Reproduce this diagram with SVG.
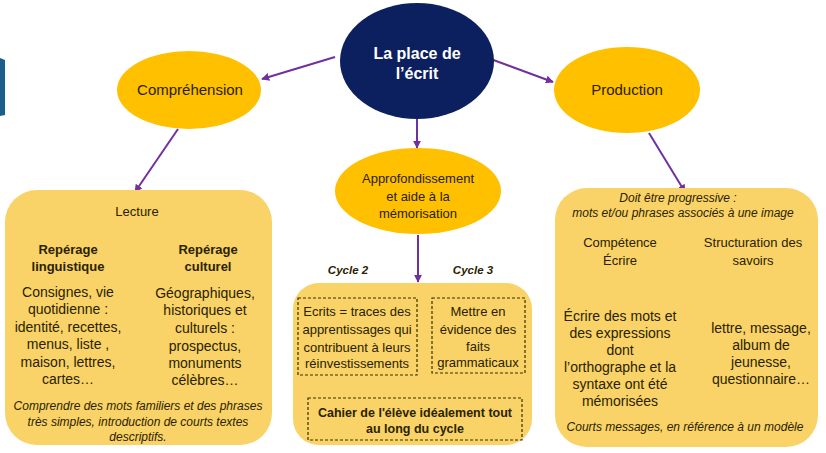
<svg xmlns="http://www.w3.org/2000/svg" width="826" height="453" viewBox="0 0 826 453">
<defs>
<marker id="ah" viewBox="0 0 10 10" refX="9" refY="5" markerWidth="4" markerHeight="4" orient="auto" markerUnits="strokeWidth">
<path d="M0,0 L10,5 L0,10 z" fill="#7030A0"/>
</marker>
<style>
text{font-family:"Liberation Sans",Arial,sans-serif;fill:#2a2200;text-anchor:middle}
.oval{fill:#FFC000}
.box{fill:#F9D368}
.dash{fill:none;stroke:#3a3000;stroke-width:1.2;stroke-dasharray:3 2}
.con{stroke:#7030A0;stroke-width:2;fill:none;marker-end:url(#ah)}
.t15{font-size:15px}
.t14{font-size:14px}
.t13{font-size:13px}
.b13{font-size:13px;font-weight:bold}
.i12{font-size:12px;font-style:italic}
.bi{font-size:11.5px;font-style:italic;font-weight:bold}
.b12{font-size:12.5px;font-weight:bold}
</style>
</defs>
<rect width="826" height="453" fill="#ffffff"/>
<path d="M0,58 L5,60 L5,115 L0,116 z" fill="#1B5E8C"/>

<g id="connectors">
<line class="con" x1="335" y1="57" x2="262" y2="79"/>
<line class="con" x1="488" y1="58" x2="553" y2="82"/>
<line class="con" x1="417" y1="119" x2="417" y2="148"/>
<line class="con" x1="178" y1="129" x2="135" y2="192"/>
<line class="con" x1="649" y1="133" x2="685" y2="192"/>
<line class="con" x1="418" y1="235" x2="418" y2="282"/>
<line class="con" x1="120" y1="222" x2="95" y2="237"/>
<line class="con" x1="151" y1="222" x2="177" y2="237"/>
<line class="con" x1="137" y1="232" x2="137" y2="390"/>
<line class="con" x1="619" y1="272" x2="619" y2="303"/>
<line class="con" x1="752" y1="272" x2="752" y2="306"/>
</g>

<g id="center">
<ellipse cx="417" cy="61" rx="77" ry="58" fill="#0C1F5E"/>
<text x="417" y="59" style="font-size:16px;font-weight:bold;fill:#ffffff">La place de</text>
<text x="417" y="79" style="font-size:16px;font-weight:bold;fill:#ffffff">l’écrit</text>
</g>

<g id="comprehension">
<ellipse class="oval" cx="189" cy="90" rx="72" ry="39"/>
<text class="t15" x="190" y="95">Compréhension</text>
</g>

<g id="production">
<ellipse class="oval" cx="627" cy="90" rx="73" ry="43"/>
<text class="t15" x="627" y="95">Production</text>
</g>

<g id="approfondissement">
<ellipse class="oval" cx="418" cy="191" rx="83" ry="43"/>
<text class="t13" x="418" y="183">Approfondissement</text>
<text class="t13" x="418" y="201">et aide à la</text>
<text class="t13" x="418" y="218">mémorisation</text>
</g>

<g id="lecture">
<rect class="box" x="5" y="190" width="267" height="255" rx="32"/>
<text class="t13" x="137" y="216">Lecture</text>
<text class="b13" x="68" y="254">Repérage</text>
<text class="b13" x="68" y="271">linguistique</text>
<text class="b13" x="208" y="254">Repérage</text>
<text class="b13" x="208" y="271">culturel</text>
<text class="t14" x="68" y="297">Consignes, vie</text>
<text class="t14" x="68" y="314">quotidienne :</text>
<text class="t14" x="68" y="332">identité, recettes,</text>
<text class="t14" x="68" y="349">menus, liste ,</text>
<text class="t14" x="68" y="367">maison, lettres,</text>
<text class="t14" x="68" y="384">cartes…</text>
<text class="t14" x="205" y="298">Géographiques,</text>
<text class="t14" x="205" y="315">historiques et</text>
<text class="t14" x="205" y="333">culturels :</text>
<text class="t14" x="205" y="351">prospectus,</text>
<text class="t14" x="205" y="368">monuments</text>
<text class="t14" x="205" y="385">célèbres…</text>
<text class="i12" x="138" y="410">Comprendre des mots familiers et des phrases</text>
<text class="i12" x="138" y="426">très simples, introduction de courts textes</text>
<text class="i12" x="138" y="441">descriptifs.</text>
</g>

<g id="cycles">
<text class="bi" x="348" y="274">Cycle 2</text>
<text class="bi" x="473" y="274">Cycle 3</text>
<rect class="box" x="293" y="283" width="239" height="162" rx="26"/>
<rect class="dash" x="298" y="298" width="119" height="77"/>
<text class="t13" x="357" y="316">Ecrits = traces des</text>
<text class="t13" x="357" y="334">apprentissages qui</text>
<text class="t13" x="357" y="352">contribuent à leurs</text>
<text class="t13" x="357" y="368">réinvestissements</text>
<rect class="dash" x="432" y="298" width="93" height="75"/>
<text class="t13" x="478" y="316">Mettre en</text>
<text class="t13" x="478" y="334">évidence des</text>
<text class="t13" x="478" y="351">faits</text>
<text class="t13" x="478" y="367">grammaticaux</text>
<rect class="dash" x="308" y="398" width="214" height="42"/>
<text class="b12" x="415" y="417">Cahier de l'élève idéalement tout</text>
<text class="b12" x="415" y="433">au long du cycle</text>
</g>

<g id="ecriture">
<rect class="box" x="555" y="188" width="263" height="259" rx="32"/>
<text class="i12" x="678" y="202">Doit être progressive :</text>
<text class="i12" x="683" y="217">mots et/ou phrases  associés à une image</text>
<text class="t13" x="620" y="247">Compétence</text>
<text class="t13" x="620" y="265">Écrire</text>
<text class="t13" x="753" y="247">Structuration des</text>
<text class="t13" x="753" y="265">savoirs</text>
<text class="t14" x="620" y="321">Écrire des mots et</text>
<text class="t14" x="620" y="338">des expressions</text>
<text class="t14" x="620" y="355">dont</text>
<text class="t14" x="620" y="372">l’orthographe et la</text>
<text class="t14" x="620" y="389">syntaxe ont été</text>
<text class="t14" x="620" y="406">mémorisées</text>
<text class="t14" x="761" y="333">lettre, message,</text>
<text class="t14" x="761" y="350">album de</text>
<text class="t14" x="761" y="367">jeunesse,</text>
<text class="t14" x="761" y="384">questionnaire…</text>
<text class="i12" x="685" y="431">Courts messages, en référence à un modèle</text>
</g>
</svg>
